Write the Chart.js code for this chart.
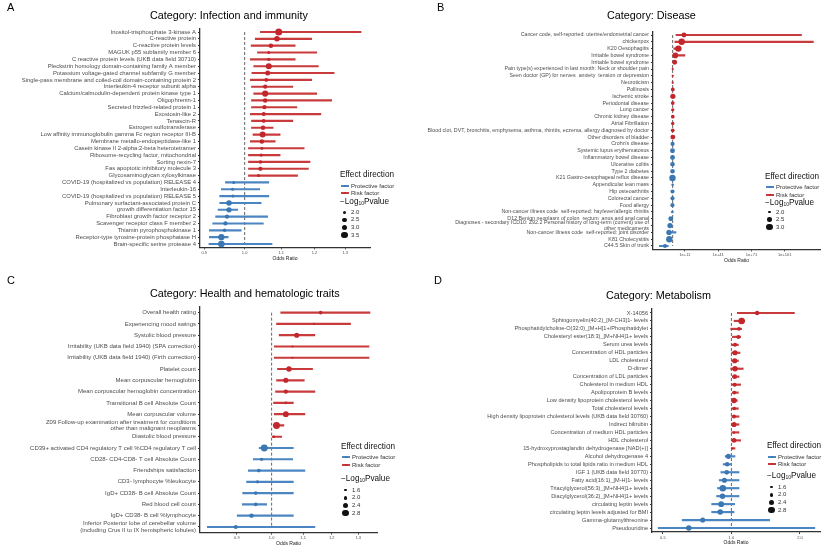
<!DOCTYPE html>
<html>
<head>
<meta charset="utf-8">
<script src="https://cdn.jsdelivr.net/npm/chart.js@4.4.1/dist/chart.umd.min.js"></script>
<style>
    body { margin: 0; background: #fff; font-family: "Liberation Sans", Arial, sans-serif; }
    #wrap { position: relative; width: 824px; height: 549px; overflow: hidden; }
    canvas { position: absolute; }
    .txt { position: absolute; white-space: nowrap; line-height: 1; }
    .txt sub { font-size: 60%; vertical-align: -0.3em; }
    .dot { position: absolute; border-radius: 50%; }
</style>
</head>
<body>
<div id="wrap">
    <canvas id="chartA" width="412" height="274" style="left:0;top:0"></canvas>
    <canvas id="chartB" width="412" height="274" style="left:412px;top:0"></canvas>
    <canvas id="chartC" width="412" height="275" style="left:0;top:274px"></canvas>
    <canvas id="chartD" width="412" height="275" style="left:412px;top:274px"></canvas>
</div>
<script>
// A: Infection and immunity
const catsA = ['Inositol-trisphosphate 3-kinase A', 'C-reactive protein', 'C-reactive protein levels', 'MAGUK p55 subfamily member 6',
    'C reactive protein levels (UKB data field 30710)', 'Pleckstrin homology domain-containing family A member',
    'Potassium voltage-gated channel subfamily G member', 'Single-pass membrane and coiled-coil domain-containing protein 2',
    'Interleukin-4 receptor subunit alpha', 'Calcium/calmodulin-dependent protein kinase type 1', 'Oligophrenin-1',
    'Secreted frizzled-related protein 1', 'Exostosin-like 2', 'Tenascin-R', 'Estrogen sulfotransferase',
    'Low affinity immunoglobulin gamma Fc region receptor III-B', 'Membrane metallo-endopeptidase-like 1',
    'Casein kinase II 2-alpha:2-beta heterotetramer', 'Ribosome-recycling factor, mitochondrial', 'Sorting nexin-7',
    'Fas apoptotic inhibitory molecule 3', 'Glycosaminoglycan xylosylkinase', 'COVID-19 (hospitalized vs population) RELEASE 4',
    'Interleukin-16', 'COVID-19 (hospitalized vs population) RELEASE 5', 'Pulmonary surfactant-associated protein C',
    'growth differentiation factor 15', 'Fibroblast growth factor receptor 2', 'Scavenger receptor class F member 2',
    'Thiamin pyrophosphokinase 1', 'Receptor-type tyrosine-protein phosphatase H', 'Brain-specific serine protease 4'];
const orA = [1.093, 1.088, 1.071, 1.065, 1.065, 1.065, 1.062, 1.058, 1.055, 1.055, 1.055, 1.053, 1.051, 1.051, 1.049, 1.048,
    1.046, 1.046, 1.044, 1.042, 1.042, 1.037, 0.972, 0.969, 0.970, 0.960, 0.960, 0.955, 0.951, 0.949, 0.941, 0.941];
const loA = [1.042, 1.028, 1.017, 1.034, 1.015, 1.024, 1.019, 1.015, 1.018, 1.024, 1.018, 1.018, 1.015, 1.018, 1.018, 1.022,
    1.015, 1.010, 1.010, 1.010, 1.010, 1.010, 0.951, 0.941, 0.937, 0.937, 0.933, 0.927, 0.920, 0.912, 0.912, 0.911];
const hiA = [1.355, 1.191, 1.141, 1.207, 1.141, 1.212, 1.263, 1.191, 1.134, 1.207, 1.255, 1.146, 1.220, 1.134, 1.077, 1.097,
    1.083, 1.168, 1.097, 1.186, 1.181, 1.148, 1.065, 1.040, 1.065, 1.044, 0.982, 1.062, 1.050, 0.991, 0.958, 1.074];
const logpA = [3.6, 3.0, 2.6, 2.0, 2.1, 3.2, 2.8, 2.3, 2.5, 3.3, 2.6, 2.5, 2.4, 2.3, 2.6, 3.2,
    2.6, 2.0, 2.1, 2.2, 2.5, 2.0, 2.0, 2.0, 2.0, 3.0, 2.9, 2.5, 2.5, 2.2, 3.3, 3.4];
const ticksA = [0.9, 1.0, 1.1, 1.2, 1.3];
const tickLabelsA = ['0.9', '1.0', '1.1', '1.2', '1.3'];
const legendSizesA = [2.0, 2.5, 3.0, 3.5];

// B: Disease
const catsB = ['Cancer code, self-reported: uterine/endometrial cancer', 'chickenpox', 'K20 Oesophagitis', 'Irritable bowel syndrome',
    'Irritable bowel syndrome', 'Pain type(s) experienced in last month: Neck or shoulder pain',
    'Seen doctor (GP) for nerves  anxiety  tension or depression', 'Neuroticism', 'Pollinosis', 'Ischemic stroke',
    'Periodontal disease', 'Lung cancer', 'Chronic kidney disease', 'Atrial Fibrillation',
    'Blood clot, DVT, bronchitis, emphysema, asthma, rhinitis, eczema, allergy diagnosed by doctor', 'Other disorders of bladder',
    "Crohn's disease", 'Systemic lupus erythematosus', 'Inflammatory bowel disease', 'Ulcerative colitis', 'Type 2 diabetes',
    'K21 Gastro-oesophageal reflux disease', 'Appendicular lean mass', 'Hip osteoarthritis', 'Colorectal cancer', 'Food allergy',
    'Non-cancer illness code  self-reported: hayfever/allergic rhinitis', 'D12 Benign neoplasm of colon  rectum  anus and anal canal',
    ['Diagnoses - secondary ICD10: Z92.2 Personal history of long-term (current) use of', 'other medicaments'],
    'Non-cancer illness code  self-reported: joint disorder', 'K81 Cholecystitis', 'C44.5 Skin of trunk'];
const orB = [1.6e10, 1.3e8, 1.3e5, 250, 63, 1.05, 1.04, 1.03, 1.3, 1.6, 1.3, 1.2, 1.3, 1.15, 1.1, 1.5,
    0.8, 0.7, 0.75, 0.72, 0.75, 0.7, 0.95, 0.7, 0.7, 0.6, 0.5, 0.02, 0.004, 5e-4, 1e-3, 1.3e-7];
const loB = [1e3, 1e2, 10, 1.5, 4, 1.01, 1.01, 1.01, 1.02, 1.1, 1.05, 1.03, 1.05, 1.03, 1.02, 1.1,
    0.6, 0.5, 0.6, 0.55, 0.6, 0.5, 0.9, 0.5, 0.5, 0.4, 0.3, 1e-3, 2e-4, 1e-5, 3e-5, 1e-12];
const hiB = [1e116, 5e126, 3e7, 1e11, 1e3, 1.1, 1.08, 1.05, 1.7, 2.4, 1.6, 1.4, 1.6, 1.3, 1.2, 2.2,
    0.95, 0.9, 0.92, 0.9, 0.92, 0.88, 0.99, 0.9, 0.92, 0.85, 0.8, 0.3, 0.1, 1e3, 0.05, 1.3e-4];
const logpB = [2.6, 3.0, 3.0, 2.8, 2.6, 1.9, 1.9, 1.9, 2.3, 2.7, 2.3, 2.2, 2.3, 2.2, 2.3, 2.6,
    2.4, 2.6, 2.6, 2.5, 2.5, 3.0, 2.0, 2.4, 2.4, 2.4, 2.0, 2.6, 2.7, 2.7, 3.0, 2.4];
const ticksB = [1e11, 1e41, 1e71, 1e101];
const tickLabelsB = ['1e+11', '1e+41', '1e+71', '1e+101'];
const legendSizesB = [2.0, 2.5, 3.0];

// C: Health and hematologic traits
const catsC = ['Overall health rating', 'Experiencing mood swings', 'Systolic blood pressure',
    'Irritability (UKB data field 1940) (SPA correction)', 'Irritability (UKB data field 1940) (Firth correction)',
    'Platelet count', 'Mean corpuscular hemoglobin', 'Mean corpuscular hemoglobin concentration',
    'Transitional B cell Absolute Count', 'Mean corpuscular volume',
    ['Z09 Follow-up examination after treatment for conditions', 'other than malignant neoplasms'], 'Diastolic blood pressure',
    'CD39+ activated CD4 regulatory T cell %CD4 regulatory T cell', 'CD28- CD4-CD8- T cell Absolute Count',
    'Friendships satisfaction', 'CD3- lymphocyte %leukocyte', 'IgD+ CD38- B cell Absolute Count', 'Red blood cell count',
    'IgD+ CD38- B cell %lymphocyte', ['Inferior Posterior lobe of cerebellar volume', '(including Crus II to IX hemispheric lobules)']];
const orC = [1.160, 1.137, 1.079, 1.065, 1.065, 1.054, 1.044, 1.044, 1.044, 1.044, 1.015, 1.007,
    0.978, 0.970, 0.962, 0.958, 0.953, 0.953, 0.941, 0.897];
const loC = [1.028, 1.015, 1.023, 1.008, 1.008, 1.018, 1.015, 1.012, 1.006, 1.008, 1.005, 1.002,
    0.963, 0.946, 0.932, 0.927, 0.916, 0.915, 0.901, 0.823];
const hiC = [1.347, 1.270, 1.140, 1.343, 1.343, 1.132, 1.104, 1.140, 1.068, 1.106, 1.038, 1.031,
    1.068, 1.066, 1.106, 1.068, 1.068, 0.985, 1.068, 1.140];
const logpC = [2.0, 1.6, 2.4, 1.6, 1.6, 2.5, 2.4, 2.2, 1.7, 2.6, 2.9, 1.7, 2.9, 1.9, 2.0, 1.9, 2.0, 2.0, 2.2, 2.1];
const ticksC = [0.9, 1.0, 1.1, 1.2, 1.3];
const tickLabelsC = ['0.9', '1.0', '1.1', '1.2', '1.3'];
const legendSizesC = [1.6, 2.0, 2.4, 2.8];

// D: Metabolism
const catsD = ['X-14056', 'Sphingomyelin(40:2)_[M-CH3]1- levels', 'Phosphatidylcholine-O(32:0)_[M+H]1+/Phosphatidylet',
    'Cholesteryl ester(18:3)_[M+NH4]1+ levels', 'Serum urea levels', 'Concentration of HDL particles', 'LDL cholesterol',
    'D-dimer', 'Concentration of LDL particles', 'Cholesterol in medium HDL', 'Apolipoprotein B levels',
    'Low density lipoprotein cholesterol levels', 'Total cholesterol levels',
    'High density lipoprotein cholesterol levels (UKB data field 30760)', 'Indirect bilirubin',
    'Concentration of medium HDL particles', 'HDL cholesterol', '15-hydroxyprostaglandin dehydrogenase [NAD(+)]',
    'Alcohol dehydrogenase 4', 'Phospholipids to total lipids ratio in medium HDL', 'IGF 1 (UKB data field 30770)',
    'Fatty acid(16:1)_[M-H]1- levels', 'Triacylglycerol(56:3)_[M+NH4]1+ levels', 'Diacylglycerol(36:2)_[M+NH4]1+ levels',
    'circulating leptin levels', 'circulating leptin levels adjusted for BMI', 'Gamma-glutamylthreonine', 'Pseudouridine'];
const orD = [1.297, 1.109, 1.080, 1.073, 1.037, 1.037, 1.034, 1.037, 1.034, 1.034, 1.030, 1.027, 1.030, 1.027,
    1.027, 1.027, 1.027, 1.010, 0.970, 0.958, 0.954, 0.932, 0.917, 0.914, 0.902, 0.893, 0.748, 0.650];
const loD = [1.062, 1.027, 0.993, 1.010, 1.000, 1.003, 1.003, 0.993, 1.010, 1.003, 1.010, 1.003, 1.003, 1.003,
    1.003, 1.003, 1.003, 1.000, 0.939, 0.920, 0.899, 0.884, 0.869, 0.861, 0.819, 0.819, 0.608, 0.477];
const hiD = [1.891, 1.143, 1.109, 1.098, 1.073, 1.091, 1.073, 1.127, 1.080, 1.098, 1.073, 1.062, 1.073, 1.080,
    1.080, 1.080, 1.098, 1.037, 1.037, 1.000, 1.080, 1.080, 1.080, 1.080, 1.034, 1.027, 1.472, 2.324];
const logpD = [2.2, 2.8, 2.0, 2.1, 2.1, 2.4, 2.4, 2.5, 2.3, 2.1, 2.0, 2.5, 2.0, 2.1,
    2.4, 1.7, 2.3, 1.6, 2.4, 2.2, 2.3, 2.4, 2.8, 2.5, 2.6, 2.5, 2.4, 2.5];
const ticksD = [0.5, 1.0, 2.0];
const tickLabelsD = ['0.5', '1.0', '2.0'];
const legendSizesD = [1.6, 2.0, 2.4, 2.8];

const RED = '#c1272d';
const RED_LINE = '#c93a3c';
const BLUE = '#3b77b2';
const BLUE_LINE = '#4b86c2';
const wrap = document.getElementById('wrap');

function forestPlot(id, cats, or, lo, hi, logp, cfg) {
    const last = cats.length - 1;
    const lineCol = or.map(v => v > 1 ? RED_LINE : BLUE_LINE);
    const dotCol = or.map(v => v > 1 ? RED : BLUE);
    return new Chart(document.getElementById(id), {
        type: 'bar',
        data: {
            labels: cats,
            datasets: [
                { type: 'line', data: [{ x: 1, y: cats[0] }, { x: 1, y: cats[last] }], borderColor: '#555', borderWidth: 0.9, borderDash: [3, 2], pointRadius: 0, order: 3 },
                { data: lo.map((v, i) => [v, hi[i]]), backgroundColor: lineCol, barThickness: 1.5, order: 2 },
                { type: 'scatter', data: or.map((v, i) => ({ x: v, y: i })), pointRadius: logp.map(cfg.radius), pointBackgroundColor: dotCol, pointBorderWidth: 0, order: 1 }
            ]
        },
        options: {
            indexAxis: 'y',
            responsive: false,
            animation: false,
            layout: { padding: cfg.pad },
            plugins: { legend: { display: false }, tooltip: { enabled: false } },
            scales: {
                x: {
                    type: 'logarithmic', min: cfg.xmin, max: cfg.xmax,
                    afterBuildTicks: s => { s.ticks = cfg.ticks.map(v => ({ value: v })); },
                    afterFit: s => { s.height = 14; },
                    ticks: { callback: (v, i) => cfg.tickLabels[i], font: { size: 4 }, color: '#4d4d4d', padding: 1, maxRotation: 0, autoSkip: false },
                    grid: { drawOnChartArea: false, tickLength: 2, color: '#333' },
                    border: { color: '#333', width: 1.3 },
                    title: { display: true, text: 'Odds Ratio', font: { size: 5 }, color: '#222', padding: { top: 1, bottom: 0 } }
                },
                y: {
                    type: 'category', offset: true,
                    afterFit: s => { s.width = cfg.yw; },
                    ticks: { autoSkip: false, font: { size: cfg.fs, lineHeight: 1.05 }, color: '#4d4d4d', padding: 2 },
                    grid: { drawOnChartArea: false, tickLength: 2, color: '#333', offset: false },
                    border: { color: '#333', width: 1.3 }
                }
            }
        }
    });
}

function addText(x, y, html, size, color) {
    const d = document.createElement('div');
    d.className = 'txt';
    d.style.left = x + 'px';
    d.style.top = (y - size * 0.55) + 'px';
    d.style.fontSize = size + 'px';
    d.style.color = color;
    d.innerHTML = html;
    wrap.appendChild(d);
}

function addDot(cx, cy, r, color) {
    const d = document.createElement('div');
    d.className = 'dot';
    d.style.left = (cx - r) + 'px';
    d.style.top = (cy - r) + 'px';
    d.style.width = d.style.height = (2 * r) + 'px';
    d.style.background = color;
    wrap.appendChild(d);
}

function addLegend(L, sizes, radius) {
    addText(L.x, L.yTitle, 'Effect direction', 8.2, '#111');
    [['Protective factor', BLUE_LINE, BLUE, L.yProt], ['Risk factor', RED_LINE, RED, L.yRisk]].forEach(([name, lc, dc, y]) => {
        const ln = document.createElement('div');
        ln.style.cssText = `position:absolute;left:${L.x + 1}px;top:${y - 0.6}px;width:8px;height:1.2px;background:${lc}`;
        wrap.appendChild(ln);
        addDot(L.x + 5, y, 1.3, dc);
        addText(L.x + 11, y, name, 6, '#333');
    });
    addText(L.x, L.yP, '\u2212Log<sub>10</sub>Pvalue', 8.2, '#111');
    sizes.forEach((v, i) => {
        const y = L.ySize + i * L.step;
        addDot(L.x + 4.5, y, radius(v), '#111');
        addText(L.x + 11, y, v.toFixed(1), 6, '#333');
    });
}

const radiusA = v => 1.5 + (v - 2) * 1.25;
const radiusB = v => 1.3 + (v - 2) * 1.9;
const radiusC = v => 1.1 + (v - 1.6) * 1.8;

forestPlot('chartA', catsA, orA, loA, hiA, logpA, {
    radius: radiusA, xmin: 0.891, xmax: 1.387, ticks: ticksA, tickLabels: tickLabelsA,
    yw: 200, fs: 5.9, pad: { left: 0, top: 28.6, right: 42, bottom: 12.6 }
});
forestPlot('chartB', catsB, orB, loB, hiB, logpB, {
    radius: radiusB, xmin: Math.pow(10, -17.7), xmax: Math.pow(10, 132.7), ticks: ticksB, tickLabels: tickLabelsB,
    yw: 241, fs: 5.3, pad: { left: 0, top: 31.6, right: 4, bottom: 10.6 }
});
forestPlot('chartC', catsC, orC, loC, hiC, logpC, {
    radius: radiusC, xmin: 0.805, xmax: 1.376, ticks: ticksC, tickLabels: tickLabelsC,
    yw: 200, fs: 6, pad: { left: 0, top: 33, right: 35, bottom: 2.4 }
});
forestPlot('chartD', catsD, orD, loD, hiD, logpD, {
    radius: radiusC, xmin: 0.448, xmax: 2.45, ticks: ticksD, tickLabels: tickLabelsD,
    yw: 240, fs: 5.6, pad: { left: 0, top: 35, right: 2, bottom: 3 }
});

// panel letters and titles
addText(7, 8, 'A', 11, '#000');
addText(437, 8, 'B', 11, '#000');
addText(7, 281, 'C', 11, '#000');
addText(434, 281, 'D', 11, '#000');
addText(150, 16, 'Category: Infection and immunity', 10.8, '#000');
addText(607, 16, 'Category: Disease', 10.8, '#000');
addText(150, 294, 'Category: Health and hematologic traits', 10.8, '#000');
addText(606, 296, 'Category: Metabolism', 10.8, '#000');

addLegend({ x: 340, yTitle: 176, yProt: 186, yRisk: 193, yP: 203, ySize: 212, step: 7.7 }, legendSizesA, radiusA);
addLegend({ x: 765, yTitle: 178, yProt: 187, yRisk: 195, yP: 204, ySize: 212, step: 7.5 }, legendSizesB, radiusB);
addLegend({ x: 341, yTitle: 448, yProt: 457, yRisk: 465, yP: 480, ySize: 490, step: 7.7 }, legendSizesC, radiusC);
addLegend({ x: 767, yTitle: 447, yProt: 457, yRisk: 464, yP: 477, ySize: 487, step: 7.7 }, legendSizesD, radiusC);
</script>
</body>
</html>
